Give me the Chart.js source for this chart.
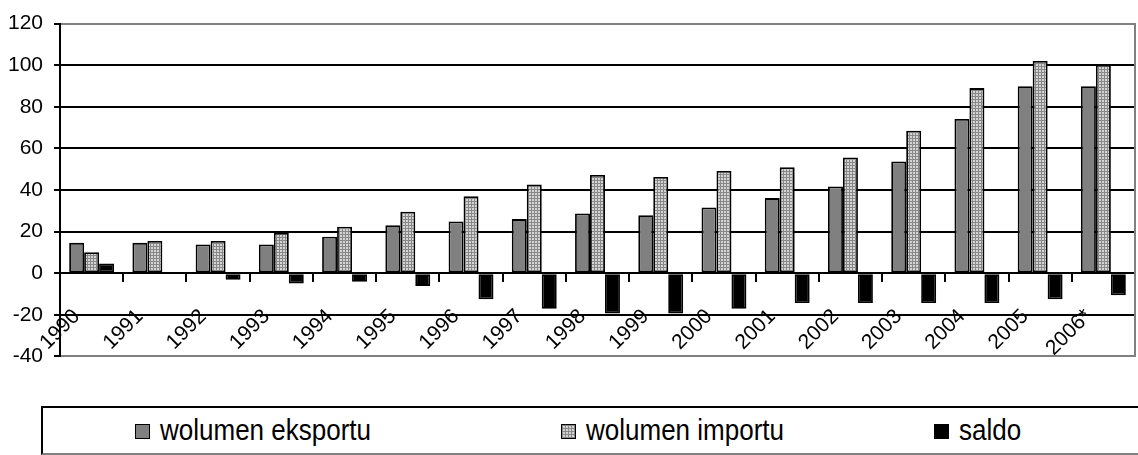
<!DOCTYPE html>
<html>
<head>
<meta charset="utf-8">
<script src="https://cdn.jsdelivr.net/npm/chart.js@4/dist/chart.umd.min.js"></script>
<style>
  body { margin: 0; background: #fff; width: 1138px; height: 455px; overflow: hidden; position: relative; font-family: 'Liberation Sans', Arial, sans-serif; }
  #chart { position: absolute; left: 0; top: 0; }
  #legend { position: absolute; left: 41px; top: 406px; width: 1120px; height: 45px;
            border-top: 2px solid #000; border-left: 2px solid #000; border-bottom: 2px solid #808080; }
  .item { position: absolute; top: 0; height: 45px; line-height: 45px; font-size: 26px; color: #000; white-space: nowrap; }
  .box { position: absolute; top: 16px; width: 13px; height: 13px; border: 1px solid #000; }
  .item span.t { position: absolute; top: 0; transform: scale(1, 1.15); transform-origin: 0 60%; }
</style>
</head>
<body>
<canvas id="chart" width="1138" height="380"></canvas>
<div id="legend"></div>
<script>
// data
var years = ['1990', '1991', '1992', '1993', '1994', '1995', '1996', '1997', '1998',
             '1999', '2000', '2001', '2002', '2003', '2004', '2005', '2006*'];
var eksport = [14.6, 14.6, 13.8, 13.8, 17.5, 23.1, 24.9, 26.0, 28.7,
               27.9, 31.6, 36.1, 41.7, 53.7, 74.1, 89.9, 89.9];
var import_ = [10.1, 15.5, 15.5, 19.4, 22.3, 29.6, 37.0, 42.6, 47.2,
               46.3, 49.1, 50.9, 55.6, 68.5, 89.0, 102.0, 100.1];
var saldo = [4.7, 0, -3.2, -5.0, -4.1, -6.1, -12.5, -17.1, -19.4,
             -19.4, -17.1, -14.3, -14.3, -14.3, -14.3, -12.5, -10.6];
var seriesNames = ['wolumen eksportu', 'wolumen importu', 'saldo'];
var yMin = -40, yMax = 120, yStep = 20;

// dotted fill used for the import bars
function dotPattern() {
  var c = document.createElement('canvas');
  c.width = 3; c.height = 3;
  var g = c.getContext('2d');
  g.fillStyle = '#888888';
  g.fillRect(0, 0, 3, 3);
  g.fillStyle = '#d4d4d4';
  g.fillRect(1, 1, 2, 2);
  return c;
}
var dots = dotPattern();
var ctx = document.getElementById('chart').getContext('2d');
var importFill = ctx.createPattern(dots, 'repeat');
var fills = ['#808080', importFill, '#000000'];

var font = { family: "'Liberation Sans', Arial, sans-serif", size: 21 };

var chart = new Chart(ctx, {
  type: 'bar',
  data: {
    labels: years,
    datasets: [
      { label: seriesNames[0], data: eksport, backgroundColor: fills[0] },
      { label: seriesNames[1], data: import_, backgroundColor: fills[1] },
      { label: seriesNames[2], data: saldo, backgroundColor: fills[2] }
    ]
  },
  options: {
    responsive: false,
    animation: false,
    devicePixelRatio: 1,
    layout: { padding: { top: 20, right: 3, bottom: 15, left: 0 } },
    datasets: {
      bar: {
        categoryPercentage: 0.71,
        barPercentage: 1,
        borderColor: '#000',
        borderWidth: 1.8,
        borderSkipped: false
      }
    },
    plugins: { legend: { display: false }, tooltip: { enabled: false } },
    scales: {
      x: {
        position: { y: 0 },
        // axis sits on the zero line, so it should not take any layout room
        afterFit: function (s) { s.height = 0; s.paddingLeft = 0; s.paddingRight = 0; },
        grid: { drawOnChartArea: false, drawTicks: true, tickLength: 8, color: '#000', lineWidth: 2 },
        border: { display: true, color: '#000', width: 2 },
        ticks: {
          autoSkip: false, minRotation: 45, maxRotation: 45,
          labelOffset: -15, padding: 23, color: '#000', font: font
        }
      },
      y: {
        min: yMin, max: yMax,
        afterFit: function (s) { s.width = 60; },
        ticks: { stepSize: yStep, padding: 11, color: '#000', font: font },
        grid: {
          color: function (c) { return (c.tick.value === yMax || c.tick.value === yMin) ? '#808080' : '#000'; },
          lineWidth: 2,
          tickColor: '#000',
          tickLength: 6,
          tickWidth: 2
        },
        border: { display: true, color: '#000', width: 2 }
      },
      yr: {
        position: 'right',
        min: yMin, max: yMax,
        afterFit: function (s) { s.width = 0; },
        ticks: { display: false },
        grid: { display: false },
        border: { display: true, color: '#808080', width: 2 }
      }
    }
  }
});

// legend, laid out like the reference
var legendX = [92, 518, 891];
var legend = document.getElementById('legend');
seriesNames.forEach(function (name, i) {
  var item = document.createElement('div');
  item.className = 'item';
  item.style.left = legendX[i] + 'px';
  var box = document.createElement('div');
  box.className = 'box';
  if (i === 1) {
    box.style.backgroundImage = 'url(' + dots.toDataURL() + ')';
  } else {
    box.style.background = fills[i];
  }
  var t = document.createElement('span');
  t.className = 't';
  t.style.left = '25px';
  t.textContent = name;
  item.appendChild(box);
  item.appendChild(t);
  legend.appendChild(item);
});
</script>
</body>
</html>
